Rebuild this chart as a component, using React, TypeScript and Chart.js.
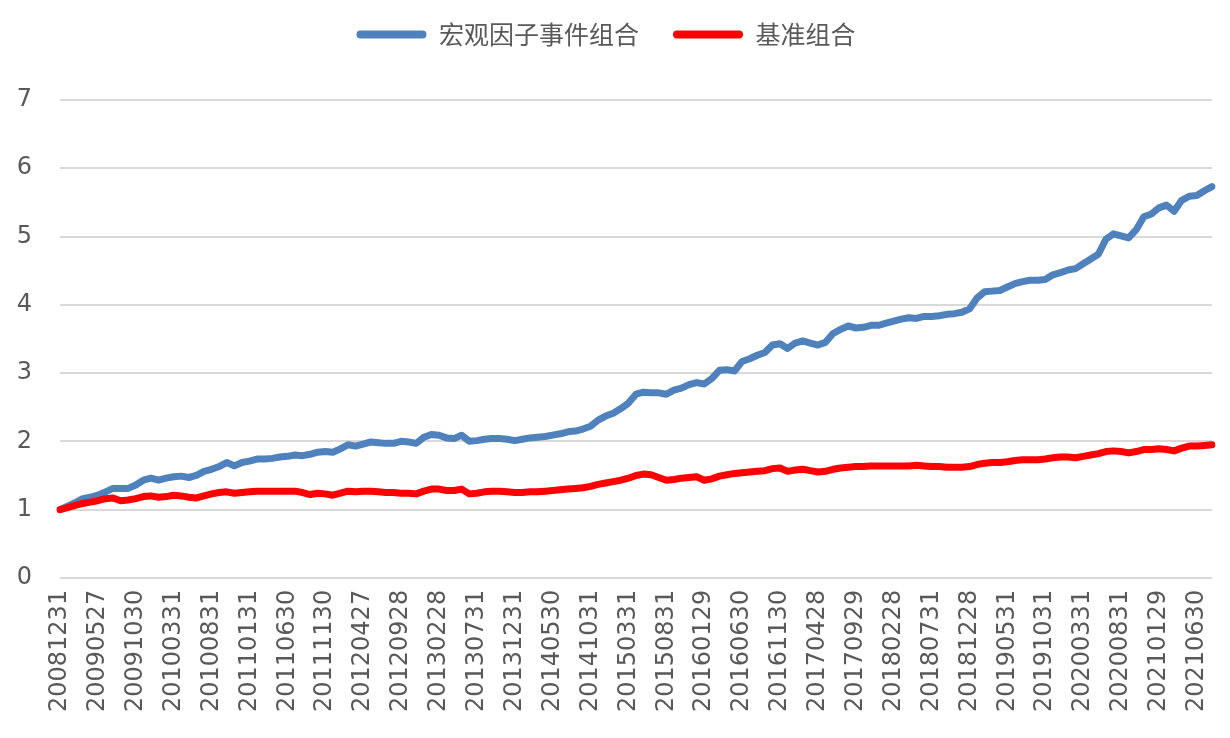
import React, { useEffect, useRef } from "react";
import { Chart, registerables } from "chart.js";

Chart.register(...registerables);

const categories: string[] = [
  "20081231",
  "20090123", "20090227", "20090331", "20090430", "20090527", "20090630", "20090731", "20090831", "20090930", "20091030", "20091130", "20091231",
  "20100129", "20100226", "20100331", "20100430", "20100531", "20100630", "20100730", "20100831", "20100930", "20101029", "20101130", "20101231",
  "20110131", "20110228", "20110331", "20110429", "20110531", "20110630", "20110729", "20110831", "20110930", "20111031", "20111130", "20111230",
  "20120131", "20120229", "20120330", "20120427", "20120531", "20120629", "20120731", "20120831", "20120928", "20121031", "20121130", "20121231",
  "20130131", "20130228", "20130329", "20130426", "20130531", "20130628", "20130731", "20130830", "20130930", "20131031", "20131129", "20131231",
  "20140130", "20140228", "20140331", "20140430", "20140530", "20140630", "20140731", "20140829", "20140930", "20141031", "20141128", "20141231",
  "20150130", "20150227", "20150331", "20150430", "20150529", "20150630", "20150731", "20150831", "20150930", "20151030", "20151130", "20151231",
  "20160129", "20160229", "20160331", "20160429", "20160531", "20160630", "20160729", "20160831", "20160930", "20161031", "20161130", "20161230",
  "20170126", "20170228", "20170331", "20170428", "20170531", "20170630", "20170731", "20170831", "20170929", "20171031", "20171130", "20171229",
  "20180131", "20180228", "20180330", "20180427", "20180531", "20180629", "20180731", "20180831", "20180928", "20181031", "20181130", "20181228",
  "20190131", "20190228", "20190329", "20190430", "20190531", "20190628", "20190731", "20190830", "20190930", "20191031", "20191129", "20191231",
  "20200123", "20200228", "20200331", "20200430", "20200529", "20200630", "20200731", "20200831", "20200930", "20201030", "20201130", "20201231",
  "20210129", "20210226", "20210331", "20210430", "20210531", "20210630", "20210730", "20210831",
];

const macroPortfolio: number[] = [
  1.00, 1.05, 1.10, 1.16, 1.18, 1.21, 1.26, 1.31, 1.31, 1.31,
  1.36, 1.43, 1.46, 1.43, 1.46, 1.48, 1.49, 1.47, 1.50, 1.56,
  1.59, 1.63, 1.69, 1.64, 1.69, 1.71, 1.74, 1.74, 1.75, 1.77,
  1.78, 1.80, 1.79, 1.81, 1.84, 1.85, 1.84, 1.89, 1.95, 1.93,
  1.96, 1.99, 1.98, 1.97, 1.97, 2.00, 1.99, 1.97, 2.06, 2.10,
  2.09, 2.05, 2.04, 2.09, 2.00, 2.01, 2.03, 2.04, 2.04, 2.03,
  2.01, 2.03, 2.05, 2.06, 2.07, 2.09, 2.11, 2.14, 2.15, 2.18,
  2.22, 2.31, 2.37, 2.41, 2.48, 2.56, 2.69, 2.72, 2.71, 2.71,
  2.69, 2.75, 2.78, 2.83, 2.86, 2.84, 2.92, 3.04, 3.05, 3.03,
  3.17, 3.21, 3.26, 3.30, 3.41, 3.43, 3.36, 3.44, 3.47, 3.44,
  3.41, 3.45, 3.58, 3.64, 3.69, 3.66, 3.67, 3.70, 3.70, 3.73,
  3.76, 3.79, 3.81, 3.80, 3.83, 3.83, 3.84, 3.86, 3.87, 3.89,
  3.94, 4.10, 4.19, 4.20, 4.21, 4.26, 4.31, 4.34, 4.36, 4.36,
  4.37, 4.44, 4.47, 4.51, 4.53, 4.60, 4.67, 4.74, 4.96, 5.04,
  5.01, 4.98, 5.10, 5.29, 5.33, 5.42, 5.46, 5.37, 5.53, 5.59,
  5.60, 5.67, 5.73,
];

const benchmark: number[] = [
  1.00, 1.03, 1.06, 1.09, 1.11, 1.13, 1.16, 1.17, 1.13, 1.14,
  1.16, 1.19, 1.20, 1.18, 1.19, 1.21, 1.20, 1.18, 1.17, 1.20,
  1.23, 1.25, 1.26, 1.24, 1.25, 1.26, 1.27, 1.27, 1.27, 1.27,
  1.27, 1.27, 1.25, 1.22, 1.24, 1.23, 1.21, 1.24, 1.27, 1.26,
  1.27, 1.27, 1.26, 1.25, 1.25, 1.24, 1.24, 1.23, 1.27, 1.30,
  1.30, 1.28, 1.28, 1.30, 1.23, 1.24, 1.26, 1.27, 1.27, 1.26,
  1.25, 1.25, 1.26, 1.26, 1.27, 1.28, 1.29, 1.30, 1.31, 1.32,
  1.34, 1.37, 1.39, 1.41, 1.43, 1.46, 1.50, 1.52, 1.51, 1.47,
  1.43, 1.44, 1.46, 1.47, 1.48, 1.43, 1.45, 1.49, 1.51, 1.53,
  1.54, 1.55, 1.56, 1.57, 1.60, 1.61, 1.56, 1.58, 1.59, 1.57,
  1.55, 1.56, 1.59, 1.61, 1.62, 1.63, 1.63, 1.64, 1.64, 1.64,
  1.64, 1.64, 1.64, 1.65, 1.64, 1.63, 1.63, 1.62, 1.62, 1.62,
  1.63, 1.66, 1.68, 1.69, 1.69, 1.70, 1.72, 1.73, 1.73, 1.73,
  1.74, 1.76, 1.77, 1.77, 1.76, 1.78, 1.80, 1.82, 1.85, 1.86,
  1.85, 1.83, 1.85, 1.88, 1.88, 1.89, 1.88, 1.86, 1.90, 1.93,
  1.93, 1.94, 1.95,
];

const seriesNames: string[] = ["宏观因子事件组合", "基准组合"];
const yTicks: number[] = [0, 1, 2, 3, 4, 5, 6, 7];

const legendSpacer = {
  id: "legendSpacer",
  beforeInit(chart: any) {
    const origFit = chart.legend.fit;
    chart.legend.fit = function fit() {
      origFit.bind(chart.legend)();
      this.height += 31;
    };
  },
  afterLayout(chart: any) {
    chart.legend.top -= 12;
    chart.legend.bottom -= 12;
  },
};

export default function App() {
  const ref = useRef<HTMLCanvasElement | null>(null);

  useEffect(() => {
    if (!ref.current) return;
    const chart = new Chart(ref.current, {
      type: "line",
      data: {
        labels: categories,
        datasets: [
          {
            label: seriesNames[0],
            data: macroPortfolio,
            borderColor: "#4f81bd",
            backgroundColor: "#4f81bd",
            borderWidth: 7,
            pointRadius: 0,
            tension: 0,
            borderCapStyle: "round",
            borderJoinStyle: "round",
            order: 2,
          },
          {
            label: seriesNames[1],
            data: benchmark,
            borderColor: "#ff0000",
            backgroundColor: "#ff0000",
            borderWidth: 7,
            pointRadius: 0,
            tension: 0,
            borderCapStyle: "round",
            borderJoinStyle: "round",
            order: 1,
          },
        ],
      },
      options: {
        responsive: false,
        animation: false,
        layout: { padding: { left: 0, right: 18, top: 0, bottom: 22 } },
        plugins: {
          tooltip: { enabled: false },
          legend: {
            display: true,
            position: "top",
            labels: {
              sort: (a: any, b: any) => a.datasetIndex - b.datasetIndex,
              boxWidth: 70,
              boxHeight: 8,
              padding: 34,
              color: "#595959",
              font: { family: "'Noto Sans CJK SC'", size: 25 },
              generateLabels: (chart: any) =>
                chart.data.datasets.map((ds: any, i: number) => ({
                  text: ds.label,
                  fillStyle: ds.borderColor,
                  strokeStyle: ds.borderColor,
                  lineWidth: 0,
                  hidden: false,
                  datasetIndex: i,
                  fontColor: "#595959",
                  borderRadius: 4,
                })),
              useBorderRadius: true,
              borderRadius: 4,
            },
          },
        },
        scales: {
          x: {
            type: "category",
            offset: false,
            grid: { display: false },
            border: { display: false },
            ticks: {
              autoSkip: false,
              maxRotation: 90,
              minRotation: 90,
              padding: 4,
              color: "#595959",
              font: { family: "'DejaVu Sans'", size: 24 },
              callback: (_v: any, i: number) => (i % 5 === 0 ? categories[i] : null),
            },
          },
          y: {
            min: 0,
            max: 7,
            afterFit: (s: any) => {
              s.width = 60;
            },
            afterBuildTicks: (s: any) => {
              s.ticks = yTicks.map((v) => ({ value: v }));
            },
            grid: { color: "#d9d9d9", lineWidth: 2, drawTicks: false },
            border: { display: false },
            ticks: {
              padding: 28,
              color: "#595959",
              font: { family: "'DejaVu Sans'", size: 24 },
            },
          },
        },
      },
      plugins: [legendSpacer],
    });
    return () => chart.destroy();
  }, []);

  return (
    <canvas
      ref={ref}
      width={1230}
      height={738}
      style={{ position: "fixed", left: 0, top: 0, display: "block" }}
    />
  );
}
